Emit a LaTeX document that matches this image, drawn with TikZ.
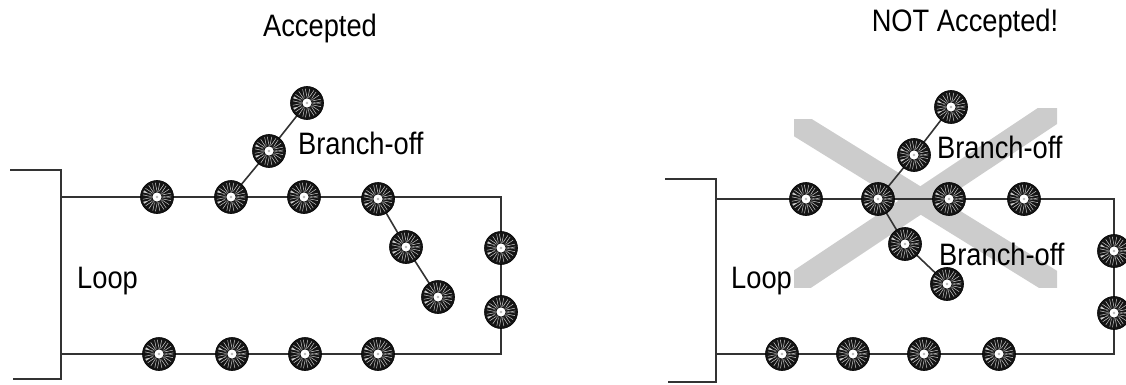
\documentclass[tikz,border=0pt]{standalone}
\usepackage{fontspec}
\newfontfamily\narrowsans{Liberation Sans}[FakeStretch=0.88]
\usepackage{tikz}

\pgfdeclarelayer{xmark}
\pgfdeclarelayer{wires}
\pgfsetlayers{xmark,wires,main}

\definecolor{wiregray}{HTML}{333333}
\definecolor{crossgray}{HTML}{CCCCCC}

\tikzset{
  sensor/.style={circle, fill=black!92, draw=black, line width=0.6pt, minimum size=33pt, inner sep=0pt,
    path picture={
      \draw[gray!40, line width=9pt, dash pattern=on 0.5pt off 2.2pt] (path picture bounding box.center) circle (10pt);
      \draw[black!80, line width=0.6pt] (path picture bounding box.center) circle (6.2pt);
      \fill[white] (path picture bounding box.center) circle (4.6pt);
      \fill[gray!55] (path picture bounding box.center) circle (1.4pt);
    }},
  wire/.style={draw=wiregray, line width=1.6pt},
  frame/.style={draw=wiregray, line width=2.2pt},
  lbl/.style={font=\narrowsans\fontsize{31}{36}\selectfont, inner sep=0pt}
}

\begin{document}
\begin{tikzpicture}[x=1pt, y=-1pt]

\useasboundingbox (0,0) rectangle (1126,385);

% titles
\node[lbl, anchor=base] (titleA) at (320,37) {Accepted};
\node[lbl, anchor=base] (titleB) at (965,32) {NOT Accepted!};

% ---- accepted ----
\draw[frame] (10,170) -- (61,170) -- (61,379) -- (13,379);

\coordinate (la) at (61,197);
\coordinate (lb) at (501,197);
\coordinate (lc) at (501,354);
\coordinate (ld) at (61,354);

\node[sensor] (t1) at (157,197) {};
\node[sensor] (t2) at (231,197) {};
\node[sensor] (t3) at (304,197) {};
\node[sensor] (t4) at (378,199) {};
\node[sensor] (u1) at (269,151) {};
\node[sensor] (u2) at (307,103) {};
\node[sensor] (d1) at (406,247) {};
\node[sensor] (d2) at (438,297) {};
\node[sensor] (r1) at (501,248) {};
\node[sensor] (r2) at (501,312) {};
\node[sensor] (b1) at (159,354) {};
\node[sensor] (b2) at (232,354) {};
\node[sensor] (b3) at (305,354) {};
\node[sensor] (b4) at (378,354) {};

\begin{pgfonlayer}{wires}
\draw[wire] (la) -- (lb) -- (lc) -- (ld);
\draw[wire] (t2.center) -- (u1.center) -- (u2.center);
\draw[wire] (t4.center) -- (d1.center) -- (d2.center);
\end{pgfonlayer}

\node[lbl, anchor=base west] (brA) at (298,154) {Branch-off};
\node[lbl, anchor=base west] (loopA) at (77,288) {Loop};

% ---- not accepted ----
\draw[frame] (665,179) -- (716,179) -- (716,382) -- (668,382);

\coordinate (ma) at (716,199);
\coordinate (mb) at (1114,199);
\coordinate (mc) at (1114,354);
\coordinate (md) at (716,354);

\node[sensor] (s1) at (806,199) {};
\node[sensor] (s2) at (878,199) {};
\node[sensor] (s3) at (949,199) {};
\node[sensor] (s4) at (1024,199) {};
\node[sensor] (v1) at (914,155) {};
\node[sensor] (v2) at (951,107) {};
\node[sensor] (w1) at (905,244) {};
\node[sensor] (w2) at (947,284) {};
\node[sensor] (q1) at (1114,251) {};
\node[sensor] (q2) at (1114,313) {};
\node[sensor] (c1) at (782,354) {};
\node[sensor] (c2) at (853,354) {};
\node[sensor] (c3) at (924,354) {};
\node[sensor] (c4) at (999,354) {};

\begin{pgfonlayer}{wires}
\draw[wire] (ma) -- (mb) -- (mc) -- (md);
\draw[wire] (s2.center) -- (v1.center) -- (v2.center);
\draw[wire] (s2.center) -- (w1.center) -- (w2.center);
\end{pgfonlayer}

\begin{pgfonlayer}{xmark}
\begin{scope}
\clip (794,120) rectangle (1057,287);
\draw[crossgray, line width=24pt] (780,113.5) -- (1070,293);
\end{scope}
\begin{scope}
\clip (794,109) rectangle (1057,287);
\draw[crossgray, line width=24pt] (780,294) -- (1070,101);
\end{scope}
\end{pgfonlayer}

\node[lbl, anchor=base west] (brB) at (937,158) {Branch-off};
\node[lbl, anchor=base west] (brC) at (939,265) {Branch-off};
\node[lbl, anchor=base west] (loopB) at (731,288) {Loop};

\end{tikzpicture}
\end{document}
